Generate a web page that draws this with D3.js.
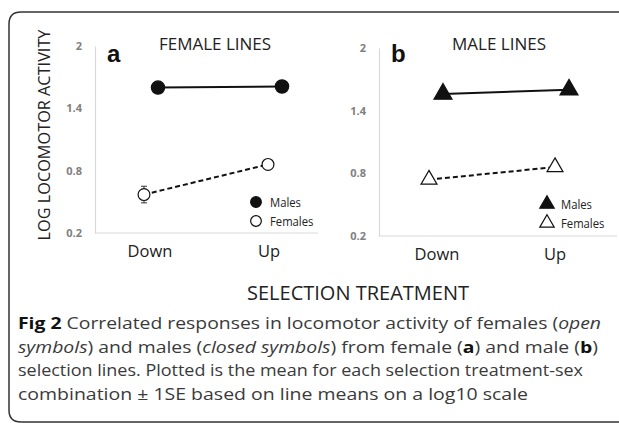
<!DOCTYPE html>
<meta charset="utf-8">
<script src="https://cdnjs.cloudflare.com/ajax/libs/d3/7.8.5/d3.min.js"></script>
<style>
  body { margin: 0; background: #fff; }
  svg { display: block; }
</style>
<div id="chart"></div>
<script>
// data (log10 scale)
const treatments = ["Down", "Up"];
const yTicks = [0.2, 0.8, 1.4, 2];
const femaleLinesMales = [1.60, 1.61];
const femaleLinesFemales = [0.57, 0.86];
const femaleLinesMalesSE = [0.02, 0.02];
const femaleLinesFemalesSE = [0.08, 0.02];
const maleLinesMales = [1.56, 1.60];
const maleLinesFemales = [0.74, 0.86];
const maleLinesMalesSE = [0.02, 0.02];
const maleLinesFemalesSE = [0.02, 0.03];
const seriesNames = ["Males", "Females"];

const width = 619, height = 423;
const svg = d3.select("#chart").append("svg")
  .attr("width", width).attr("height", height);

// outer frame (rounded left corners)
svg.append("path")
  .attr("d", "M 620 12 H 21 Q 9 12 9 24 V 410 Q 9 422 21 422 H 620")
  .attr("fill", "none").attr("stroke", "#333").attr("stroke-width", 1.5);

const panels = [
  { letter: "a", title: "FEMALE LINES", x0: 95, x1: 318, top: 46, bottom: 233,
    cats: [151, 275], off: [7, -7], titleX: 215, labelX: [150, 269],
    males: femaleLinesMales, females: femaleLinesFemales,
    malesSE: femaleLinesMalesSE, femalesSE: femaleLinesFemalesSE,
    symbol: d3.symbolCircle, legX: 256, legY: 202 },
  { letter: "b", title: "MALE LINES", x0: 379, x1: 617, top: 48, bottom: 236,
    cats: [436, 562], off: [7, -7], titleX: 499, labelX: [437, 555],
    males: maleLinesMales, females: maleLinesFemales,
    malesSE: maleLinesMalesSE, femalesSE: maleLinesFemalesSE,
    symbol: d3.symbolTriangle, legX: 547, legY: 204 }
];

panels.forEach(p => {
  const g = svg.append("g");
  const y = d3.scaleLinear().domain([0.2, 2]).range([p.bottom, p.top]);
  const x = d3.scaleOrdinal().domain(treatments).range(p.cats);

  // y axis
  const yAxis = g.append("g")
    .attr("transform", `translate(${p.x0},0)`)
    .call(d3.axisLeft(y).tickValues(yTicks).tickSize(0).tickPadding(13)
      .tickFormat(d3.format("")));
  yAxis.select(".domain").attr("stroke", "#d9d9d9").attr("stroke-width", 1.2);
  yAxis.selectAll("text")
    .style("font-family", "Open Sans, sans-serif").style("font-size", "11px")
    .style("font-weight", "bold").attr("fill", "#808080");

  // x axis line
  g.append("line")
    .attr("x1", p.x0).attr("x2", p.x1).attr("y1", p.bottom).attr("y2", p.bottom)
    .attr("stroke", "#d9d9d9").attr("stroke-width", 1.2);
  treatments.forEach((t, i) => {
    g.append("text").attr("x", p.labelX[i]).attr("y", p.bottom + 24)
      .attr("text-anchor", "middle")
      .style("font-family", "Open Sans, sans-serif").style("font-size", "16.5px")
      .attr("fill", "#222").text(t);
  });

  // title and panel letter
  g.append("text").attr("x", p.titleX).attr("y", 50).attr("text-anchor", "middle")
    .style("font-family", "Open Sans, sans-serif").style("font-size", "17px")
    .attr("fill", "#222").text(p.title);
  g.append("text").attr("x", p.x0 + 12).attr("y", 62)
    .style("font-family", "Liberation Sans, Arial, sans-serif").style("font-size", "24px")
    .style("font-weight", "bold").attr("fill", "#111").text(p.letter);

  const sym = d3.symbol().type(p.symbol);
  const series = [
    { vals: p.males, se: p.malesSE, off: p.off[0], dash: null, fill: "#111", size: 140 },
    { vals: p.females, se: p.femalesSE, off: p.off[1], dash: "5,3", fill: "#fff", size: 110 }
  ];
  series.forEach(s => {
    const pts = treatments.map((t, i) => ({ x: x(t) + s.off, v: s.vals[i], se: s.se[i] }));
    g.append("path").datum(pts)
      .attr("d", d3.line().x(d => d.x).y(d => y(d.v)))
      .attr("fill", "none").attr("stroke", "#111").attr("stroke-width", 2)
      .attr("stroke-dasharray", s.dash);
    // error bars
    pts.forEach(d => {
      g.append("line").attr("x1", d.x).attr("x2", d.x)
        .attr("y1", y(d.v - d.se)).attr("y2", y(d.v + d.se))
        .attr("stroke", "#333").attr("stroke-width", 1);
      [d.v - d.se, d.v + d.se].forEach(e => {
        g.append("line").attr("x1", d.x - 3).attr("x2", d.x + 3)
          .attr("y1", y(e)).attr("y2", y(e)).attr("stroke", "#333").attr("stroke-width", 1);
      });
    });
    g.selectAll(null).data(pts).join("path")
      .attr("transform", d => `translate(${d.x},${y(d.v)})`)
      .attr("d", sym.size(s.size)())
      .attr("fill", s.fill).attr("stroke", "#111").attr("stroke-width", 1.2);
  });

  // legend
  seriesNames.forEach((n, i) => {
    const ly = p.legY + i * 19;
    g.append("path").attr("transform", `translate(${p.legX},${ly})`)
      .attr("d", sym.size(90)())
      .attr("fill", i === 0 ? "#111" : "#fff").attr("stroke", "#111").attr("stroke-width", 1.2);
    g.append("text").attr("x", p.legX + 14).attr("y", ly + 5)
      .attr("textLength", n.length * 6.2).attr("lengthAdjust", "spacingAndGlyphs")
      .style("font-family", "Open Sans, sans-serif").style("font-size", "13px")
      .attr("fill", "#222").text(n);
  });
});

// y axis title
svg.append("text")
  .attr("transform", "translate(50,135) rotate(-90)")
  .attr("text-anchor", "middle")
  .style("font-family", "Open Sans, sans-serif").style("font-size", "16.3px")
  .attr("fill", "#222").text("LOG LOCOMOTOR ACTIVITY");

// x axis title
svg.append("text").attr("x", 358).attr("y", 300).attr("text-anchor", "middle")
  .style("font-family", "Open Sans, sans-serif").style("font-size", "20px")
  .attr("fill", "#222").text("SELECTION TREATMENT");

// caption
const caption = [
  [["Fig 2", "b"], [" Correlated responses in locomotor activity of females (", ""], ["open", "i"]],
  [["symbols", "i"], [") and males (", ""], ["closed symbols", "i"], [") from female (", ""], ["a", "b"], [") and male (", ""], ["b", "b"], [")", ""]],
  [["selection lines. Plotted is the mean for each selection treatment-sex", ""]],
  [["combination \u00b1 1SE based on line means on a log10 scale", ""]]
];
const capLen = [583, 580, 565, 510];
caption.forEach((line, i) => {
  const t = svg.append("text").attr("x", 18).attr("y", 329 + i * 23.5)
    .attr("textLength", capLen[i]).attr("lengthAdjust", "spacingAndGlyphs")
    .style("font-family", "Open Sans, sans-serif").style("font-size", "16.5px")
    .attr("fill", "#3a3a3a");
  line.forEach(([s, f]) => {
    t.append("tspan").text(s)
      .style("font-weight", f === "b" ? "bold" : null)
      .style("font-style", f === "i" ? "italic" : null)
      .attr("fill", f === "b" ? "#111" : null);
  });
});
</script>
